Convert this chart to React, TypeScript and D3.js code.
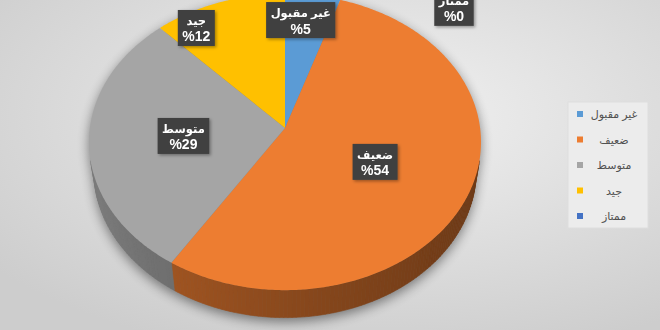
import React, { useEffect, useRef } from "react";
import * as d3 from "d3";

// ---- data ----
const categories = ["غير مقبول", "ضعيف", "متوسط", "جيد", "ممتاز"];
const percentValues = [5, 54, 29, 12, 0];
const sliceColors = ["#5B9BD5", "#ED7D31", "#A5A5A5", "#FFC000", "#4472C4"];

// ---- layout ----
const W = 660;
const H = 330;
const CX = 285;
const CY = 128;
const FOCAL = 1358;
const CAM = 6.96;
const TILT = (48.8 * Math.PI) / 180;
const THICK = 0.23;
const labelRadius = [0.8, 0.5, 0.5, 0.8, 1];
const labelNudge: [number, number][] = [
  [-7, 0],
  [0, 2],
  [-4, 1],
  [-35, 2],
  [169, 14],
];

const sinA = Math.sin(TILT);
const cosA = Math.cos(TILT);

function project(theta: number, r: number, z: number): [number, number] {
  const u = r * Math.sin(theta);
  const v = r * Math.cos(theta);
  const depth = v * cosA - z * sinA + CAM;
  return [CX + (FOCAL * u) / depth, CY - (FOCAL * (v * sinA + z * cosA)) / depth];
}

function rimPoints(a0: number, a1: number, z: number): [number, number][] {
  const n = Math.max(2, Math.ceil((a1 - a0) / 0.01));
  return d3.range(n + 1).map((i) => project(a0 + ((a1 - a0) * i) / n, 1, z));
}

export default function App() {
  const ref = useRef<SVGSVGElement | null>(null);

  useEffect(() => {
    const svg = d3.select(ref.current);
    svg.selectAll("*").remove();

    const defs = svg.append("defs");
    const bg = defs
      .append("radialGradient")
      .attr("id", "bg")
      .attr("cx", "58%")
      .attr("cy", "35%")
      .attr("r", "75%");
    bg.append("stop").attr("offset", "0%").attr("stop-color", "#f1f1f1");
    bg.append("stop").attr("offset", "100%").attr("stop-color", "#cdcdcd");

    const blur = defs.append("filter").attr("id", "pieShadow").attr("x", "-20%").attr("y", "-20%").attr("width", "140%").attr("height", "140%");
    blur.append("feGaussianBlur").attr("stdDeviation", 6);

    const ds = defs.append("filter").attr("id", "lblShadow").attr("x", "-30%").attr("y", "-30%").attr("width", "160%").attr("height", "160%");
    ds.append("feDropShadow").attr("dx", 1.5).attr("dy", 1.5).attr("stdDeviation", 1.5).attr("flood-color", "#000").attr("flood-opacity", 0.35);

    svg.append("rect").attr("width", W).attr("height", H).attr("fill", "url(#bg)");

    const line = d3.line();
    const pie = d3.pie<number>().sort(null).startAngle(0).endAngle(2 * Math.PI);
    const arcs = pie(percentValues);

    // shadow
    const tv = Math.acos(-1 / (CAM * cosA));
    const sh = svg.append("g").attr("filter", "url(#pieShadow)").attr("transform", "translate(0,4)").attr("opacity", 0.45);
    sh.append("path").attr("d", line(rimPoints(0, 2 * Math.PI, 0)) + "Z").attr("fill", "#000");
    sh.append("path").attr("d", line(rimPoints(0, 2 * Math.PI, -THICK)) + "Z").attr("fill", "#000");
    sh.append("path")
      .attr("d", line([...rimPoints(tv, 2 * Math.PI - tv, 0), ...rimPoints(tv, 2 * Math.PI - tv, -THICK).reverse()]) + "Z")
      .attr("fill", "#000");

    // side walls
    const sideG = svg.append("g");
    arcs.forEach((a, i) => {
      const s = Math.max(a.startAngle, tv);
      const e = Math.min(a.endAngle, 2 * Math.PI - tv);
      if (e <= s) return;
      const n = Math.max(1, Math.ceil((e - s) / 0.02));
      for (let k = 0; k < n; k++) {
        const t0 = s + ((e - s) * k) / n;
        const t1 = s + ((e - s) * (k + 1)) / n;
        const mid = (t0 + t1) / 2;
        const u = Math.sin(mid);
        const dk = 0.8 + 1.4 * ((u + 1) / 2);
        const col = d3.color(sliceColors[i])!.darker(dk).formatHex();
        const pts = [project(t0, 1, 0), project(t1, 1, 0), project(t1, 1, -THICK), project(t0, 1, -THICK)];
        sideG.append("path").attr("d", line(pts) + "Z").attr("fill", col).attr("stroke", col).attr("stroke-width", 0.6);
      }
    });

    // top faces
    const topG = svg.append("g");
    arcs.forEach((a, i) => {
      if (a.endAngle - a.startAngle <= 0) return;
      const pts = [project(0, 0, 0), ...rimPoints(a.startAngle, a.endAngle, 0)];
      topG.append("path").attr("d", line(pts) + "Z").attr("fill", sliceColors[i]);
    });

    // data labels
    const lg = svg.append("g").attr("font-family", "'Liberation Sans', 'DejaVu Sans', Arial, sans-serif").attr("font-weight", "bold");
    arcs.forEach((a, i) => {
      const mid = (a.startAngle + a.endAngle) / 2;
      const [px, py] = project(mid, labelRadius[i], 0);
      const x = px + labelNudge[i][0];
      const y = py + labelNudge[i][1];
      const g = lg.append("g").attr("transform", `translate(${x},${y})`);
      const rect = g.append("rect").attr("fill", "#404040").attr("filter", "url(#lblShadow)");
      const t1 = g.append("text").attr("text-anchor", "middle").attr("fill", "#fff").attr("font-size", 11.5).attr("y", -3).text(categories[i]);
      const t2 = g.append("text").attr("text-anchor", "middle").attr("fill", "#fff").attr("font-size", 14).attr("y", 13.5).attr("direction", "ltr").text(`%${percentValues[i]}`);
      const w1 = (t1.node() as SVGTextElement).getComputedTextLength();
      const w2 = (t2.node() as SVGTextElement).getComputedTextLength();
      const bw = Math.max(w1, w2) + 9;
      const bh = 36;
      rect.attr("x", -bw / 2).attr("y", -bh / 2).attr("width", bw).attr("height", bh);
    });

    // legend
    const leg = svg.append("g").attr("font-family", "'Liberation Sans', 'DejaVu Sans', Arial, sans-serif").attr("font-size", 11);
    leg.append("rect").attr("x", 568).attr("y", 102).attr("width", 80).attr("height", 126).attr("fill", "#ececec").attr("stroke", "#dedede");
    const rowY = d3.scalePoint<string>().domain(categories).range([114, 216]);
    categories.forEach((c, i) => {
      const yy = rowY(c)!;
      leg.append("rect").attr("x", 577).attr("y", yy - 3).attr("width", 6).attr("height", 6).attr("fill", sliceColors[i]);
      leg.append("text").attr("x", 614).attr("y", yy + 4).attr("text-anchor", "middle").attr("fill", "#505050").text(c);
    });
  }, []);

  return (
    <svg
      ref={ref}
      width={W}
      height={H}
      style={{ position: "fixed", left: 0, top: 0, display: "block" }}
    />
  );
}
